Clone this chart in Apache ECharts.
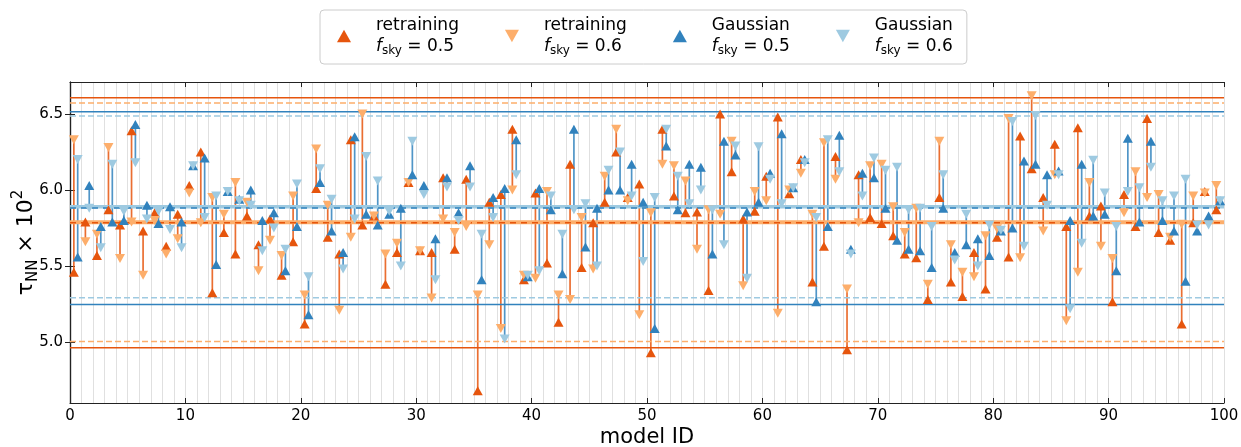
<!DOCTYPE html>
<html><head><meta charset="utf-8">
<script src="https://cdn.jsdelivr.net/npm/echarts@6/dist/echarts.min.js"></script>
<style>html,body{margin:0;padding:0;background:#fff}#c{width:1241px;height:447px}</style>
</head><body><div id="c"></div>
<script>
// ---- data (tau_NN x 10^2 per model ID 0..99) ----
const retrain05 = [5.46,5.79,5.57,5.87,5.77,6.39,5.73,5.85,5.63,5.84,
6.03,6.25,5.325,5.72,5.58,5.83,5.64,5.81,5.44,5.66,
5.12,6.01,5.69,5.58,6.33,5.77,5.83,5.38,5.59,6.05,
5.60,5.59,6.08,5.61,6.07,4.68,5.92,5.97,6.40,5.41,
5.98,5.52,5.13,6.17,5.49,5.785,5.92,6.25,5.95,6.04,
4.93,6.40,5.96,5.85,5.855,5.34,6.50,6.12,5.81,5.86,
6.09,6.48,5.975,6.20,5.395,5.63,6.22,4.95,6.10,5.82,
5.78,5.70,5.58,5.555,5.28,5.95,5.395,5.30,5.59,5.35,
5.69,5.56,6.355,6.14,5.95,6.30,5.76,6.41,5.83,5.895,
5.265,5.97,5.76,6.47,5.72,5.67,5.12,5.785,5.99,5.87];
const retrain06 = [6.33,5.66,5.71,6.28,5.55,5.79,5.44,5.80,5.58,5.68,
5.98,5.785,5.95,5.84,6.05,5.92,5.47,5.67,5.57,5.96,
5.31,6.27,5.90,5.21,5.69,6.50,5.83,5.58,5.65,6.05,
5.60,5.29,5.81,5.72,5.76,5.31,5.64,5.09,6.00,5.44,
5.42,5.99,5.31,5.28,5.82,5.48,6.09,6.40,5.93,5.18,
5.85,6.17,6.16,6.06,5.61,5.87,5.84,6.32,5.37,5.99,
5.93,5.19,6.00,6.11,5.84,6.31,6.07,5.35,5.785,6.16,
6.17,5.89,5.72,5.88,5.38,6.32,5.64,5.46,5.43,5.70,
5.745,6.47,5.555,6.62,5.73,6.10,5.14,5.46,6.05,5.63,
5.55,5.85,6.12,5.95,5.97,5.69,5.775,5.96,5.98,6.03];
const gauss05 = [5.56,6.03,5.76,5.79,5.80,6.43,5.90,5.78,5.89,5.79,
6.16,6.21,5.51,5.99,5.94,6.00,5.80,5.85,5.47,5.76,
5.18,6.05,5.73,5.59,6.35,5.84,5.77,5.84,5.88,6.10,
6.03,5.68,6.08,5.85,6.16,5.41,5.95,6.01,6.33,5.43,
6.01,5.87,5.45,6.40,5.625,5.88,6.00,6.00,6.17,5.92,
5.09,6.29,5.87,6.17,6.15,5.58,6.32,6.23,5.855,5.92,
6.11,6.37,6.015,6.20,5.265,5.76,6.36,5.61,6.11,6.08,
5.88,5.67,5.61,5.60,5.49,5.88,5.59,5.64,5.68,5.57,
5.73,5.75,6.19,6.17,6.10,6.125,5.80,6.17,5.83,5.84,
5.47,6.34,5.79,6.32,5.80,5.73,5.40,5.73,5.83,5.93];
const gauss06 = [6.20,5.88,5.62,6.17,5.86,6.18,5.81,5.86,5.74,5.62,
6.16,5.82,5.96,5.99,5.93,5.90,5.60,5.75,5.61,6.04,
5.43,6.14,5.94,5.48,5.81,6.22,6.06,5.86,5.50,6.32,
5.97,5.41,6.02,5.80,6.02,5.71,5.82,5.02,6.10,5.44,
5.47,5.96,5.71,5.87,5.91,5.50,6.13,6.25,5.96,5.53,
5.95,6.40,6.09,5.91,6.00,5.87,5.64,6.29,5.42,6.285,
6.07,5.91,6.015,6.18,5.82,6.33,6.12,5.58,5.96,6.21,
6.13,6.15,5.87,5.88,5.76,6.10,5.54,5.84,5.50,5.77,
5.735,6.45,5.63,6.49,5.90,6.10,5.22,5.65,6.195,5.98,
5.76,5.99,6.015,6.15,5.93,5.96,6.07,5.77,5.77,5.93];
// reference levels: [mean, upper, lower]
const refRetrain05 = [5.785, 6.607, 4.963];
const refRetrain06 = [5.788, 6.572, 5.004];
const refGauss05 = [5.882, 6.515, 5.248];
const refGauss06 = [5.890, 6.487, 5.292];
const xTicks = [0,10,20,30,40,50,60,70,80,90,100];
const yTicks = [5.0,5.5,6.0,6.5];

// ---- styling ----
const C = {r05:'#e6550d', r06:'#fdae6b', g05:'#3182bd', g06:'#9ecae1'};
const FONT = 'DejaVu Sans';
const OFF_R = 1/3, OFF_G = 2/3;
const DOWN = 'path://M0,0L10,0L5,9Z';
const UP = 'path://M5,0L10,9L0,9Z';
const SYM = [10, 9];

function pts(arr, off){ return arr.map((v,i)=>[i+off, v]); }
function stems(a, b, off){ return a.map((v,i)=>[i+off, v, b[i]]); }
function stemSeries(data, color){
  return {type:'custom', xAxisIndex:0, yAxisIndex:0, z:2, silent:true,
    data, encode:{x:0, y:[1,2]},
    renderItem(params, api){
      const p1 = api.coord([api.value(0), api.value(1)]);
      const p2 = api.coord([api.value(0), api.value(2)]);
      return {type:'line', shape:{x1:p1[0], y1:p1[1], x2:p2[0], y2:p2[1]},
        style:{stroke: color, lineWidth: 1.7}};
    }};
}
function hline(v, color, width, type, z){
  return {type:'line', xAxisIndex:0, yAxisIndex:0, silent:true, z, symbol:'none',
    data:[[0,v],[100,v]], lineStyle:{color, width, type}, animation:false};
}
function scatter(name, arr, off, color, sym, z){
  return {type:'scatter', name, xAxisIndex:0, yAxisIndex:0, z,
    data: pts(arr, off), symbol: sym, symbolSize: SYM, symbolKeepAspect:false,
    itemStyle:{color, opacity:1}};
}

const legendText = {
  r05:'{a|retraining}\n{f|f}{s|sky}{a| = 0.5}',
  r06:'{a|retraining}\n{f|f}{s|sky}{a| = 0.6}',
  g05:'{a|Gaussian}\n{f|f}{s|sky}{a| = 0.5}',
  g06:'{a|Gaussian}\n{f|f}{s|sky}{a| = 0.6}'
};

const series = [
  stemSeries(stems(retrain05, retrain06, OFF_R), 'rgba(230,85,13,0.85)'),
  stemSeries(stems(gauss05, gauss06, OFF_G), 'rgba(49,130,189,0.85)'),
  // bounds
  hline(refRetrain05[1], C.r05, 1.5, 'solid', 3),
  hline(refRetrain05[2], C.r05, 1.5, 'solid', 3),
  hline(refRetrain06[1], C.r06, 1.5, [6,3], 3),
  hline(refRetrain06[2], C.r06, 1.5, [6,3], 3),
  hline(refGauss05[1], C.g05, 1.5, 'solid', 3),
  hline(refGauss05[2], C.g05, 1.5, 'solid', 3),
  hline(refGauss06[1], C.g06, 1.5, [6,3], 3),
  hline(refGauss06[2], C.g06, 1.5, [6,3], 3),
  // means
  hline(refRetrain06[0], C.r06, 4, 'solid', 3),
  hline(refRetrain05[0], C.r05, 1.5, [6,5], 3),
  hline(refGauss06[0], C.g06, 3.5, 'solid', 3),
  hline(refGauss05[0], C.g05, 1.5, [6,5], 3),
  scatter('r05', retrain05, OFF_R, C.r05, UP, 5),
  scatter('r06', retrain06, OFF_R, C.r06, DOWN, 5),
  scatter('g05', gauss05, OFF_G, C.g05, UP, 6),
  scatter('g06', gauss06, OFF_G, C.g06, DOWN, 6)
];

const axisLine = {show:true, lineStyle:{color:'#222', width:1.2}};
const chart = echarts.init(document.getElementById('c'), null, {renderer:'canvas'});
chart.setOption({
  animation:false,
  backgroundColor:'#fff',
  textStyle:{fontFamily:FONT},
  grid:{left:70, right:17, top:82, bottom:44, containLabel:false, outerBoundsMode:'none'},
  legend:{
    left:320, top:10, orient:'horizontal',
    padding:[7,14,7,17], itemGap:46, itemWidth:14, itemHeight:14,
    borderColor:'#cccccc', borderWidth:1, borderRadius:4, backgroundColor:'#fff',
    data:[{name:'r05', icon:UP},{name:'r06', icon:DOWN},{name:'g05', icon:UP},{name:'g06', icon:DOWN}],
    formatter:(n)=>legendText[n],
    selectedMode:false,
    textStyle:{fontFamily:FONT, fontSize:17, color:'#000', padding:[0,0,0,20],
      rich:{
        a:{fontFamily:FONT, fontSize:17, lineHeight:21, color:'#000'},
        f:{fontFamily:FONT, fontSize:17, lineHeight:21, fontStyle:'italic', color:'#000'},
        s:{fontFamily:FONT, fontSize:12, lineHeight:12, verticalAlign:'bottom', color:'#000'}
      }}
  },
  xAxis:[
    {type:'value', min:0, max:100, interval:10, position:'bottom',
     axisLine, axisTick:{show:true, inside:true, length:5, lineStyle:{color:'#222'}},
     axisLabel:{fontFamily:FONT, fontSize:15, color:'#000', margin:6,
       customValues:xTicks},
     splitLine:{show:false},
     name:'model ID', nameLocation:'middle', nameGap:24, nameMoveOverlap:false,
     nameTextStyle:{fontFamily:FONT, fontSize:21, color:'#000'}},
    {type:'value', min:0, max:100, interval:10, position:'top',
     axisLine, axisTick:{show:true, inside:true, length:5, lineStyle:{color:'#222'}},
     axisLabel:{show:false}, splitLine:{show:false}},
    {type:'value', min:0, max:100, interval:1, position:'bottom', show:true,
     axisLine:{show:false}, axisTick:{show:false}, axisLabel:{show:false},
     splitLine:{show:true, lineStyle:{color:'#e0e0e0', width:1}}, z:0}
  ],
  yAxis:[
    {type:'value', min:4.6, max:6.71, position:'left',
     axisLine, axisTick:{show:true, inside:true, length:5, customValues:yTicks, lineStyle:{color:'#222'}},
     axisLabel:{fontFamily:FONT, fontSize:15, color:'#000', margin:7, customValues:yTicks,
       formatter:(v)=>v.toFixed(1)},
     splitLine:{show:false},
     name:'{t|τ}{s|NN}{t| × 10}{p|2}', nameLocation:'middle', nameGap:29, nameRotate:90,
     nameMoveOverlap:false,
     nameTextStyle:{fontFamily:FONT, color:'#000',
       rich:{
         t:{fontFamily:FONT, fontSize:22, lineHeight:30, color:'#000'},
         s:{fontFamily:FONT, fontSize:15, lineHeight:15, verticalAlign:'bottom', color:'#000'},
         p:{fontFamily:FONT, fontSize:15, lineHeight:15, verticalAlign:'top', color:'#000'}
       }}},
    {type:'value', min:4.6, max:6.71, position:'right',
     axisLine, axisTick:{show:true, inside:true, length:5, customValues:yTicks, lineStyle:{color:'#222'}},
     axisLabel:{show:false}, splitLine:{show:false}}
  ],
  series
});
</script></body></html>
